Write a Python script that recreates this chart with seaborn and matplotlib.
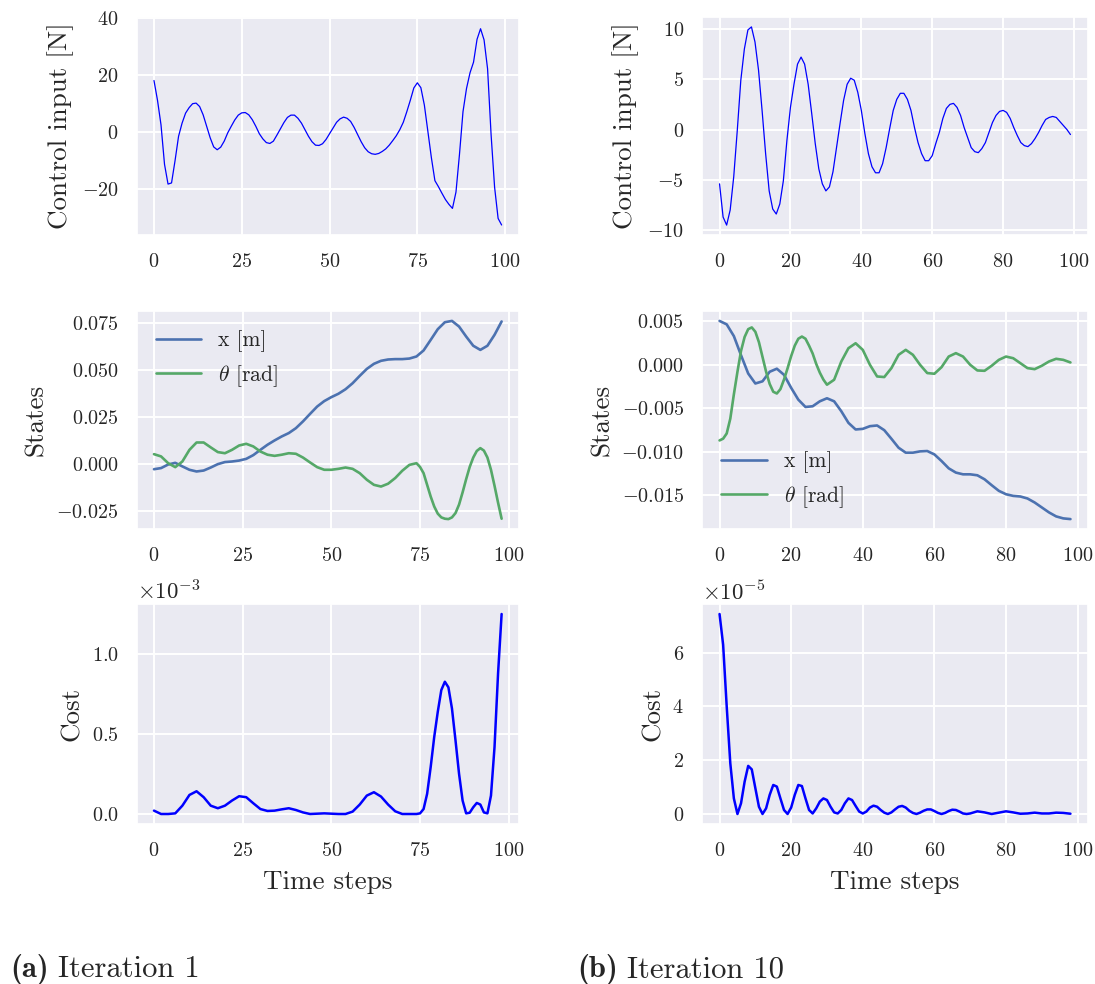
import numpy as np
import pandas as pd
import matplotlib
matplotlib.use("Agg")
import matplotlib.pyplot as plt
from matplotlib.ticker import MultipleLocator
import seaborn as sns

# ---- Iteration 1 -------------------------------------------------------
u1_steps = list(range(100))
u1_values = [
    18.0, 11.1, 2.5, -11.3, -18.2, -17.8, -10.0, -1.5, 3.1, 6.6,
    8.5, 9.9, 10.1, 8.9, 6.0, 2.0, -2.0, -5.2, -6.2, -5.3,
    -3.2, -0.3, 2.0, 4.2, 5.9, 6.7, 6.8, 6.0, 4.3, 2.0,
    -0.6, -2.4, -3.7, -4.0, -3.2, -1.1, 1.1, 3.3, 5.1, 5.9,
    5.9, 4.8, 3.1, 0.8, -1.5, -3.4, -4.6, -4.7, -4.1, -2.6,
    -0.6, 1.4, 3.4, 4.6, 5.2, 4.8, 3.7, 1.6, -0.9, -3.4,
    -5.5, -6.9, -7.6, -7.8, -7.5, -6.8, -5.9, -4.6, -3.0, -1.3,
    0.8, 3.4, 7.1, 11.1, 15.4, 17.2, 15.5, 9.4, 0.2, -9.0,
    -17.0, -19.1, -21.4, -23.6, -25.3, -26.7, -21.0, -7.8, 7.1, 15.2,
    20.7, 24.4, 32.4, 36.1, 32.2, 22.1, -0.9, -19.3, -30.2, -32.5,
]

x1_steps = list(range(0, 99, 2))
x1_values = [
    -2.7, -2.1, -0.2, 0.7, -1.2, -3.0, -3.9, -3.4, -1.8, 0.0,
    1.1, 1.4, 1.9, 2.8, 4.8, 7.6, 10.3, 12.6, 14.7, 16.5,
    19.1, 22.7, 26.7, 30.6, 33.5, 35.6, 37.4, 39.8, 43.0, 46.9,
    50.6, 53.3, 54.9, 55.6, 55.8, 55.8, 56.1, 57.2, 60.4, 66.0,
    71.7, 75.4, 76.1, 73.1, 67.8, 62.9, 60.7, 62.9, 68.7, 75.8,
]
theta1_steps = list(range(0, 75, 2)) + list(range(75, 99))
theta1_values = [
    5.3, 4.1, 0.5, -1.6, 1.4, 7.6, 11.5, 11.5, 8.9, 6.4,
    5.8, 7.6, 9.9, 10.8, 9.4, 6.7, 5.0, 4.4, 5.0, 5.8,
    5.5, 3.5, 0.9, -1.6, -3.0, -3.0, -2.5, -1.8, -2.5, -4.8,
    -8.3, -11.0, -11.9, -10.4, -7.4, -3.5, -0.4, 0.5,
    -1.5, -4.8, -11.0, -17.2, -22.5, -26.3, -28.3, -29.0, -29.2, -28.3,
    -26.0, -21.5, -15.0, -8.0, -1.5, 3.5, 7.0, 8.5, 7.2, 3.5,
    -3.0, -11.5, -20.5, -29.0,
]

cost1_steps = list(range(0, 75, 2)) + list(range(75, 99))
cost1_values = [
    0.021, 0.0, 0.0, 0.004, 0.052, 0.119, 0.142, 0.105, 0.052, 0.036,
    0.052, 0.084, 0.111, 0.105, 0.067, 0.031, 0.019, 0.021, 0.029, 0.036,
    0.025, 0.010, 0.0, 0.002, 0.004, 0.002, 0.0, 0.0, 0.015, 0.059,
    0.115, 0.136, 0.109, 0.059, 0.017, 0.0, 0.0, 0.0,
    0.004, 0.031, 0.126, 0.293, 0.481, 0.638, 0.774, 0.826, 0.791, 0.659,
    0.460, 0.251, 0.084, 0.004, 0.008, 0.042, 0.069, 0.059, 0.010, 0.004,
    0.115, 0.418, 0.879, 1.249,
]

# ---- Iteration 10 ------------------------------------------------------
u10_steps = list(range(100))
u10_values = [
    -5.4, -8.7, -9.5, -8.0, -4.7, -0.1, 4.9, 8.0, 9.9, 10.2,
    8.7, 5.9, 1.9, -2.4, -6.1, -7.9, -8.4, -7.4, -5.1, -1.1,
    2.2, 4.5, 6.5, 7.2, 6.5, 4.5, 1.6, -1.4, -3.9, -5.4,
    -6.1, -5.7, -4.2, -1.8, 0.6, 2.9, 4.5, 5.1, 4.9, 3.7,
    1.9, -0.4, -2.4, -3.7, -4.3, -4.3, -3.4, -1.8, 0.1, 1.9,
    3.0, 3.6, 3.6, 3.0, 1.9, 0.2, -1.3, -2.4, -3.1, -3.1,
    -2.6, -1.4, -0.3, 1.1, 2.1, 2.5, 2.6, 2.2, 1.4, 0.2,
    -0.8, -1.8, -2.2, -2.3, -1.9, -1.3, -0.3, 0.7, 1.4, 1.8,
    1.9, 1.7, 1.1, 0.2, -0.6, -1.3, -1.6, -1.7, -1.4, -0.9,
    -0.3, 0.4, 1.0, 1.2, 1.3, 1.2, 0.8, 0.4, 0.0, -0.5,
]

x10_steps = list(range(0, 99, 2))
x10_values = [
    5.05, 4.65, 3.30, 1.10, -1.00, -2.15, -1.90, -0.80, -0.45, -1.15,
    -2.65, -4.01, -4.85, -4.77, -4.20, -3.85, -4.20, -5.34, -6.68, -7.44,
    -7.37, -7.06, -6.98, -7.52, -8.51, -9.54, -10.11, -10.11, -9.96, -9.92,
    -10.31, -11.07, -11.91, -12.40, -12.60, -12.60, -12.71, -13.17, -13.85, -14.50,
    -14.89, -15.08, -15.15, -15.38, -15.84, -16.41, -16.98, -17.44, -17.67, -17.75,
]
theta10_steps = list(range(0, 31)) + list(range(32, 99, 2))
theta10_values = [
    -8.7, -8.5, -7.9, -6.2, -3.4, -0.8, 1.6, 3.2, 4.1, 4.3,
    3.8, 2.6, 0.9, -0.8, -2.2, -3.1, -3.3, -2.8, -1.7, -0.4,
    1.0, 2.2, 3.0, 3.25, 3.0, 2.2, 1.3, 0.1, -0.9, -1.7,
    -2.29,
    -1.72, 0.38, 1.91, 2.48, 1.72, 0.0, -1.34, -1.41, -0.38, 1.15,
    1.72, 1.15, 0.0, -0.95, -1.03, -0.27, 0.95, 1.34, 0.95, 0.0,
    -0.65, -0.69, -0.11, 0.57, 0.95, 0.76, 0.19, -0.38, -0.50, -0.11,
    0.38, 0.69, 0.57, 0.27,
]

cost10_steps = list(range(0, 70)) + list(range(70, 99, 2))
cost10_values = [
    7.44, 6.30, 4.00, 1.89, 0.58, 0.0, 0.40, 1.20, 1.79, 1.66,
    0.96, 0.27, 0.0, 0.21, 0.71, 1.08, 1.02, 0.58, 0.15, 0.0,
    0.24, 0.71, 1.08, 1.04, 0.58, 0.15, 0.02, 0.21, 0.46, 0.58,
    0.52, 0.27, 0.06, 0.02, 0.15, 0.40, 0.58, 0.52, 0.30, 0.09,
    0.02, 0.09, 0.24, 0.31, 0.27, 0.15, 0.05, 0.0, 0.06, 0.17,
    0.27, 0.30, 0.24, 0.12, 0.04, 0.0, 0.05, 0.12, 0.17, 0.17,
    0.11, 0.04, 0.0, 0.04, 0.11, 0.16, 0.15, 0.09, 0.02, 0.0,
    0.02, 0.10, 0.06, 0.0, 0.05, 0.10, 0.06, 0.01, 0.02, 0.05,
    0.02, 0.02, 0.05, 0.04, 0.01,
]

# ---- Style -------------------------------------------------------------
sns.set_theme(style="darkgrid")
plt.rcParams.update({
    "font.family": ["cmr10"],
    "mathtext.fontset": "cm",
    "axes.formatter.use_mathtext": True,
    "axes.unicode_minus": True,
    "xtick.labelsize": 14.5,
    "ytick.labelsize": 14.5,
    "axes.labelsize": 19.5,
    "xtick.major.pad": 7,
    "ytick.major.pad": 7,
    "axes.labelpad": 5.5,
    "grid.linewidth": 1.4,
    "legend.fontsize": 15.5,
    "legend.frameon": False,
    "text.color": ".15",
    "axes.labelcolor": ".15",
    "xtick.color": ".15",
    "ytick.color": ".15",
})

pal = sns.color_palette("deep")
W, H = 1095, 984
fig = plt.figure(figsize=(W / 100, H / 100), dpi=100)


def box(left, top, right, bottom):
    return [left / W, 1 - bottom / H, (right - left) / W, (bottom - top) / H]


cols = {"a": (136.6, 519), "b": (702, 1088)}
rows = [(17, 235), (311, 529), (604, 824)]

axes = {}
for key, (l, r) in cols.items():
    axes[key] = [fig.add_axes(box(l, t, r, b)) for (t, b) in rows]


def control_panel(ax, steps, vals):
    df = pd.DataFrame({"t": steps, "u": vals})
    sns.lineplot(data=df, x="t", y="u", ax=ax, color="blue", linewidth=0.9)
    ax.set_xlabel("")
    ax.set_ylabel("Control input [N]")


def state_panel(ax, xs, xv, ts, tv, loc):
    df = pd.DataFrame({
        "t": list(xs) + list(ts),
        "v": [v * 1e-3 for v in xv] + [v * 1e-3 for v in tv],
        "s": ["x [m]"] * len(xs) + [r"$\theta$ [rad]"] * len(ts),
    })
    sns.lineplot(data=df, x="t", y="v", hue="s", ax=ax,
                 palette=[pal[0], pal[2]], linewidth=1.9)
    ax.set_xlabel("")
    ax.set_ylabel("States")
    leg = ax.legend(loc=loc, handlelength=2.1)
    for line in leg.get_lines():
        line.set_linewidth(1.9)


def cost_panel(ax, steps, vals, scale):
    df = pd.DataFrame({"t": steps, "c": [v * scale for v in vals]})
    sns.lineplot(data=df, x="t", y="c", ax=ax, color="blue", linewidth=1.8)
    ax.set_xlabel("Time steps", labelpad=7)
    ax.set_ylabel("Cost")
    ax.ticklabel_format(axis="y", style="sci", scilimits=(0, 0))
    ax.yaxis.get_offset_text().set_fontsize(16.5)


control_panel(axes["a"][0], u1_steps, u1_values)
state_panel(axes["a"][1], x1_steps, x1_values, theta1_steps, theta1_values,
            "upper left")
cost_panel(axes["a"][2], cost1_steps, cost1_values, 1e-3)

control_panel(axes["b"][0], u10_steps, u10_values)
state_panel(axes["b"][1], x10_steps, x10_values, theta10_steps, theta10_values,
            "lower left")
cost_panel(axes["b"][2], cost10_steps, cost10_values, 1e-5)

for ax in axes["a"]:
    ax.set_xticks([0, 25, 50, 75, 100])
axes["a"][0].set_ylim(-36, 40.2)
axes["a"][0].yaxis.set_major_locator(MultipleLocator(20))
axes["b"][1].yaxis.set_major_locator(MultipleLocator(0.005))

fig.text(10 / W, 1 - 977 / H, "(a)", fontsize=22, family="cmb10",
         va="baseline", ha="left")
fig.text(58 / W, 1 - 977 / H, "Iteration 1", fontsize=22,
         va="baseline", ha="left")
fig.text(577 / W, 1 - 977 / H, "(b)", fontsize=22, family="cmb10",
         va="baseline", ha="left")
fig.text(627 / W, 1 - 977 / H, "Iteration 10", fontsize=22,
         va="baseline", ha="left")

fig.savefig("out.png", dpi=100)
